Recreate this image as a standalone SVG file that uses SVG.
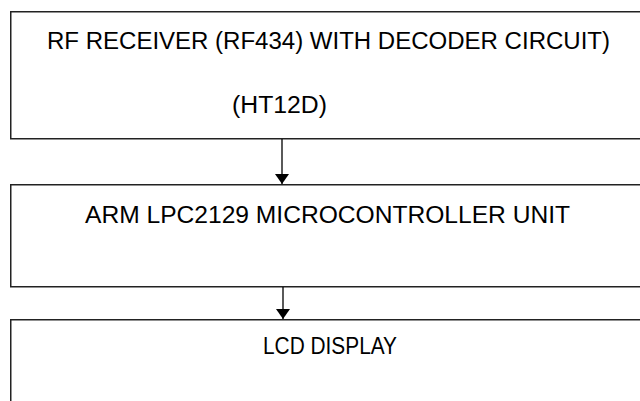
<svg xmlns="http://www.w3.org/2000/svg" width="640" height="401" viewBox="0 0 640 401">
  <style>
    .box { fill: #ffffff; stroke: #222222; stroke-width: 1.5; }
    .lbl { font-family: "Liberation Sans", Arial, sans-serif; font-size: 23px; fill: #000000; }
    .con { stroke: #000000; stroke-width: 1.3; fill: none; }
  </style>
  <defs>
    <marker id="arr" viewBox="0 0 10 14" refX="10" refY="7" markerWidth="10" markerHeight="14" markerUnits="userSpaceOnUse" orient="auto">
      <path d="M0,0 L10,7 L0,14 Z" fill="#000000"/>
    </marker>
  </defs>
  <rect width="640" height="401" fill="#ffffff"/>
  <g id="node-rf">
    <rect class="box" x="10.75" y="11.75" width="640" height="127"/>
    <text class="lbl" x="47" y="49" textLength="563" lengthAdjust="spacingAndGlyphs">RF RECEIVER (RF434) WITH DECODER CIRCUIT)</text>
    <text class="lbl" x="232" y="113" textLength="95" lengthAdjust="spacingAndGlyphs">(HT12D)</text>
  </g>
  <g id="node-arm">
    <rect class="box" x="10.75" y="184.75" width="640" height="102"/>
    <text class="lbl" x="85" y="223" textLength="485" lengthAdjust="spacingAndGlyphs">ARM LPC2129 MICROCONTROLLER UNIT</text>
  </g>
  <g id="node-lcd">
    <rect class="box" x="10.75" y="319.75" width="640" height="100"/>
    <text class="lbl" x="263" y="354" textLength="134" lengthAdjust="spacingAndGlyphs">LCD DISPLAY</text>
  </g>
  <g id="connectors">
    <line class="con" x1="282" y1="139" x2="282" y2="184" marker-end="url(#arr)"/>
    <line class="con" x1="283" y1="287" x2="283" y2="319" marker-end="url(#arr)"/>
  </g>
</svg>
